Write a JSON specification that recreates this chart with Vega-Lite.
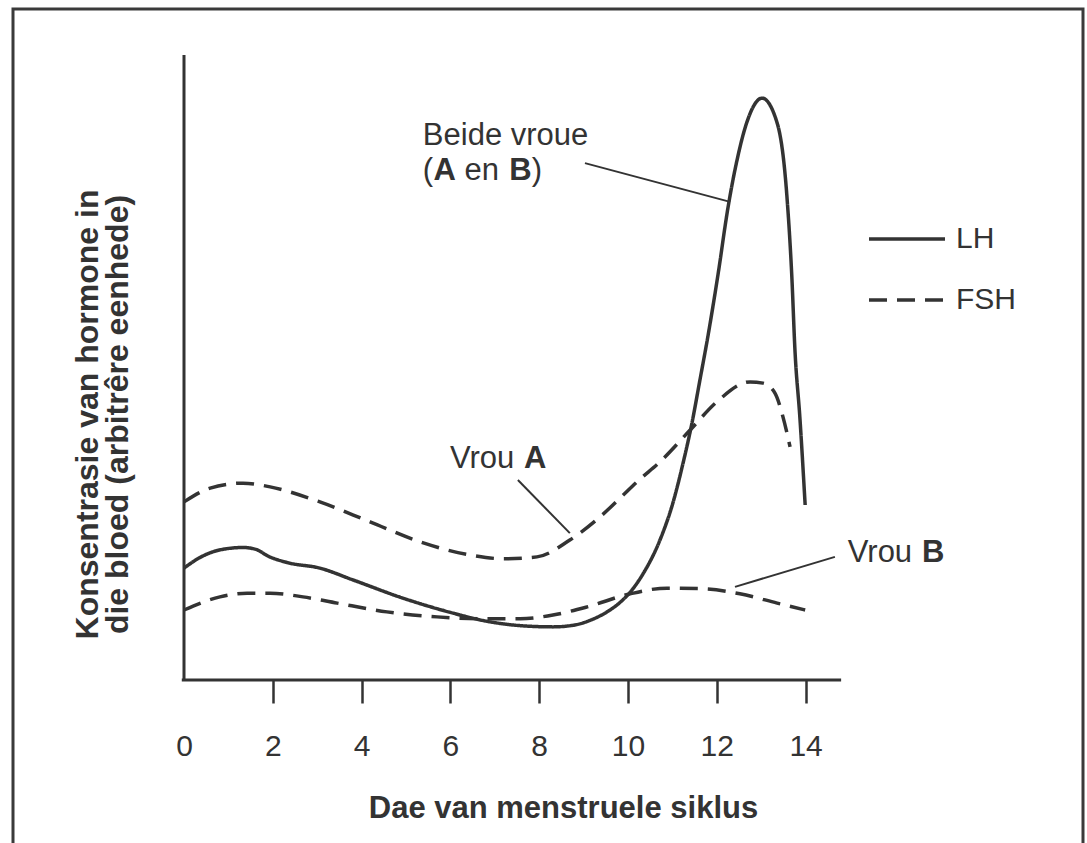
{
  "$schema": "https://vega.github.io/schema/vega-lite/v6.json",
  "width": 1070,
  "height": 841,
  "autosize": {"type": "none"},
  "padding": {"left": 13, "top": 9, "right": 4, "bottom": 0},
  "background": "white",
  "config": {
    "view": {"stroke": "#3a3a3a", "strokeWidth": 3},
    "font": "Liberation Sans"
  },
  "datasets": {
    "curves": [
      {"series": "LH", "hormone": "LH", "day": 0, "value": 17.9},
      {"series": "LH", "hormone": "LH", "day": 0.36, "value": 19.6},
      {"series": "LH", "hormone": "LH", "day": 0.8, "value": 20.8},
      {"series": "LH", "hormone": "LH", "day": 1.33, "value": 21.2},
      {"series": "LH", "hormone": "LH", "day": 1.62, "value": 20.9},
      {"series": "LH", "hormone": "LH", "day": 1.9, "value": 19.8},
      {"series": "LH", "hormone": "LH", "day": 2.32, "value": 18.8},
      {"series": "LH", "hormone": "LH", "day": 3.06, "value": 17.9},
      {"series": "LH", "hormone": "LH", "day": 3.81, "value": 16.0},
      {"series": "LH", "hormone": "LH", "day": 4.93, "value": 13.1},
      {"series": "LH", "hormone": "LH", "day": 6.06, "value": 10.7},
      {"series": "LH", "hormone": "LH", "day": 6.82, "value": 9.4},
      {"series": "LH", "hormone": "LH", "day": 7.57, "value": 8.7},
      {"series": "LH", "hormone": "LH", "day": 8.31, "value": 8.5},
      {"series": "LH", "hormone": "LH", "day": 8.8, "value": 8.8},
      {"series": "LH", "hormone": "LH", "day": 9.2, "value": 9.7},
      {"series": "LH", "hormone": "LH", "day": 9.55, "value": 11.0},
      {"series": "LH", "hormone": "LH", "day": 9.85, "value": 12.6},
      {"series": "LH", "hormone": "LH", "day": 10.1, "value": 14.5},
      {"series": "LH", "hormone": "LH", "day": 10.34, "value": 17.0},
      {"series": "LH", "hormone": "LH", "day": 10.72, "value": 22.4},
      {"series": "LH", "hormone": "LH", "day": 11.01, "value": 28.3},
      {"series": "LH", "hormone": "LH", "day": 11.24, "value": 34.7},
      {"series": "LH", "hormone": "LH", "day": 11.44, "value": 41.1},
      {"series": "LH", "hormone": "LH", "day": 11.62, "value": 48.0},
      {"series": "LH", "hormone": "LH", "day": 11.8, "value": 55.0},
      {"series": "LH", "hormone": "LH", "day": 12.03, "value": 65.0},
      {"series": "LH", "hormone": "LH", "day": 12.25, "value": 75.5},
      {"series": "LH", "hormone": "LH", "day": 12.45, "value": 83.0},
      {"series": "LH", "hormone": "LH", "day": 12.68, "value": 89.3},
      {"series": "LH", "hormone": "LH", "day": 13.02, "value": 93.1},
      {"series": "LH", "hormone": "LH", "day": 13.36, "value": 89.1},
      {"series": "LH", "hormone": "LH", "day": 13.58, "value": 77.3},
      {"series": "LH", "hormone": "LH", "day": 13.69, "value": 64.5},
      {"series": "LH", "hormone": "LH", "day": 13.76, "value": 52.8},
      {"series": "LH", "hormone": "LH", "day": 13.87, "value": 42.1},
      {"series": "LH", "hormone": "LH", "day": 13.99, "value": 28.0},
      {"series": "FSH A", "hormone": "FSH", "day": 0, "value": 28.5},
      {"series": "FSH A", "hormone": "FSH", "day": 0.59, "value": 30.7},
      {"series": "FSH A", "hormone": "FSH", "day": 1.33, "value": 31.5},
      {"series": "FSH A", "hormone": "FSH", "day": 1.94, "value": 30.9},
      {"series": "FSH A", "hormone": "FSH", "day": 3.06, "value": 28.5},
      {"series": "FSH A", "hormone": "FSH", "day": 4.19, "value": 25.3},
      {"series": "FSH A", "hormone": "FSH", "day": 5.32, "value": 22.1},
      {"series": "FSH A", "hormone": "FSH", "day": 6.44, "value": 20.0},
      {"series": "FSH A", "hormone": "FSH", "day": 7.18, "value": 19.4},
      {"series": "FSH A", "hormone": "FSH", "day": 7.95, "value": 19.7},
      {"series": "FSH A", "hormone": "FSH", "day": 8.69, "value": 22.4},
      {"series": "FSH A", "hormone": "FSH", "day": 9.37, "value": 26.1},
      {"series": "FSH A", "hormone": "FSH", "day": 9.82, "value": 29.1},
      {"series": "FSH A", "hormone": "FSH", "day": 10.25, "value": 32.0},
      {"series": "FSH A", "hormone": "FSH", "day": 10.72, "value": 34.9},
      {"series": "FSH A", "hormone": "FSH", "day": 11.4, "value": 40.0},
      {"series": "FSH A", "hormone": "FSH", "day": 12.0, "value": 44.5},
      {"series": "FSH A", "hormone": "FSH", "day": 12.75, "value": 47.7},
      {"series": "FSH A", "hormone": "FSH", "day": 13.04, "value": 47.5},
      {"series": "FSH A", "hormone": "FSH", "day": 13.31, "value": 45.9},
      {"series": "FSH A", "hormone": "FSH", "day": 13.49, "value": 42.1},
      {"series": "FSH A", "hormone": "FSH", "day": 13.65, "value": 37.3},
      {"series": "FSH B", "hormone": "FSH", "day": 0, "value": 11.2},
      {"series": "FSH B", "hormone": "FSH", "day": 0.81, "value": 13.3},
      {"series": "FSH B", "hormone": "FSH", "day": 1.42, "value": 13.9},
      {"series": "FSH B", "hormone": "FSH", "day": 1.94, "value": 13.9},
      {"series": "FSH B", "hormone": "FSH", "day": 2.68, "value": 13.3},
      {"series": "FSH B", "hormone": "FSH", "day": 3.45, "value": 12.3},
      {"series": "FSH B", "hormone": "FSH", "day": 4.57, "value": 10.9},
      {"series": "FSH B", "hormone": "FSH", "day": 5.7, "value": 10.1},
      {"series": "FSH B", "hormone": "FSH", "day": 6.82, "value": 9.8},
      {"series": "FSH B", "hormone": "FSH", "day": 7.57, "value": 9.8},
      {"series": "FSH B", "hormone": "FSH", "day": 8.31, "value": 10.4},
      {"series": "FSH B", "hormone": "FSH", "day": 9.08, "value": 11.7},
      {"series": "FSH B", "hormone": "FSH", "day": 10.05, "value": 13.8},
      {"series": "FSH B", "hormone": "FSH", "day": 10.88, "value": 14.7},
      {"series": "FSH B", "hormone": "FSH", "day": 11.69, "value": 14.6},
      {"series": "FSH B", "hormone": "FSH", "day": 12.52, "value": 13.8},
      {"series": "FSH B", "hormone": "FSH", "day": 13.36, "value": 12.3},
      {"series": "FSH B", "hormone": "FSH", "day": 13.99, "value": 11.2}
    ],
    "axislines": [
      {"day": 0, "value": 0, "day2": 0, "value2": 100},
      {"day": -0.05, "value": 0, "day2": 14.8, "value2": 0}
    ],
    "leaders": [
      {"day": 9.03, "value": 82.7, "day2": 12.3, "value2": 76.5},
      {"day": 7.52, "value": 32.0, "day2": 8.69, "value2": 23.5},
      {"day": 14.66, "value": 19.7, "day2": 12.41, "value2": 14.9}
    ],
    "plainlabels": [
      {"day": 5.38, "value": 85.6, "text": "Beide vroue"},
      {"day": 5.38, "value": 80.0, "text": "("},
      {"day": 6.318, "value": 80.0, "text": "en"},
      {"day": 7.831, "value": 80.0, "text": ")"},
      {"day": 5.99, "value": 33.9, "text": "Vrou"},
      {"day": 14.95, "value": 18.9, "text": "Vrou"}
    ],
    "boldlabels": [
      {"day": 5.619, "value": 80.0, "text": "A"},
      {"day": 7.327, "value": 80.0, "text": "B"},
      {"day": 7.658, "value": 33.9, "text": "A"},
      {"day": 16.622, "value": 18.9, "text": "B"}
    ]
  },
  "encoding": {
    "x": {
      "field": "day",
      "type": "quantitative",
      "scale": {"domain": [-3.8514, 20.2477], "nice": false, "zero": false},
      "axis": {
        "orient": "bottom",
        "offset": -170,
        "domain": false,
        "grid": false,
        "values": [0, 2, 4, 6, 8, 10, 12, 14],
        "tickSize": 23,
        "tickWidth": 2.5,
        "tickColor": "#333333",
        "tickOpacity": {"condition": {"test": "datum.value === 0", "value": 0}, "value": 1},
        "labelFontSize": 30,
        "labelColor": "#333333",
        "labelFont": "Liberation Sans",
        "labelPadding": 52,
        "labelBaseline": "alphabetic",
        "labelOverlap": false,
        "labelFlush": false,
        "title": "Dae van menstruele siklus",
        "titleFont": "Liberation Sans",
        "titleFontSize": 31,
        "titleFontWeight": "bold",
        "titleColor": "#333333",
        "titleBaseline": "alphabetic",
        "titleAlign": "center",
        "titleX": 550,
        "titleY": 137
      }
    },
    "y": {
      "field": "value",
      "type": "quantitative",
      "scale": {"domain": [-27.2, 107.36], "nice": false, "zero": false},
      "axis": {
        "orient": "left",
        "domain": false,
        "grid": false,
        "ticks": false,
        "labels": false,
        "title": ["Konsentrasie van hormone in", "die bloed (arbitrêre eenhede)"],
        "titleFont": "Liberation Sans",
        "titleFontSize": 32,
        "titleFontWeight": "bold",
        "titleColor": "#333333",
        "titleAngle": 270,
        "titleBaseline": "alphabetic",
        "titleAlign": "center",
        "titleLineHeight": 30,
        "titleX": 84,
        "titleY": 405
      }
    }
  },
  "layer": [
    {
      "data": {"name": "curves"},
      "mark": {"type": "line", "interpolate": "monotone", "strokeWidth": 3.5, "color": "#333333", "strokeCap": "butt"},
      "encoding": {
        "detail": {"field": "series", "type": "nominal"},
        "strokeDash": {
          "field": "hormone",
          "type": "nominal",
          "scale": {"domain": ["LH", "FSH"], "range": [[1, 0], [18, 10]]},
          "legend": {
            "title": null,
            "orient": "none",
            "legendX": 854,
            "legendY": 190,
            "symbolType": "stroke",
            "symbolSize": 5776,
            "symbolStrokeWidth": 3.5,
            "symbolStrokeColor": "#333333",
            "labelFontSize": 30,
            "labelFont": "Liberation Sans",
            "labelColor": "#333333",
            "labelOffset": 9,
            "rowPadding": 6,
            "padding": 0,
            "symbolOffset": 0,
            "labelLimit": 0
          }
        }
      }
    },
    {
      "data": {"name": "axislines"},
      "mark": {"type": "rule", "strokeWidth": 3, "color": "#333333"},
      "encoding": {
        "x2": {"field": "day2"},
        "y2": {"field": "value2"}
      }
    },
    {
      "data": {"name": "leaders"},
      "mark": {"type": "rule", "strokeWidth": 2, "color": "#333333"},
      "encoding": {
        "x2": {"field": "day2"},
        "y2": {"field": "value2"}
      }
    },
    {
      "data": {"name": "plainlabels"},
      "mark": {"type": "text", "align": "left", "baseline": "alphabetic", "fontSize": 31, "font": "Liberation Sans", "color": "#333333"},
      "encoding": {"text": {"field": "text"}}
    },
    {
      "data": {"name": "boldlabels"},
      "mark": {"type": "text", "align": "left", "baseline": "alphabetic", "fontSize": 31, "font": "Liberation Sans", "fontWeight": "bold", "color": "#333333"},
      "encoding": {"text": {"field": "text"}}
    }
  ]
}
